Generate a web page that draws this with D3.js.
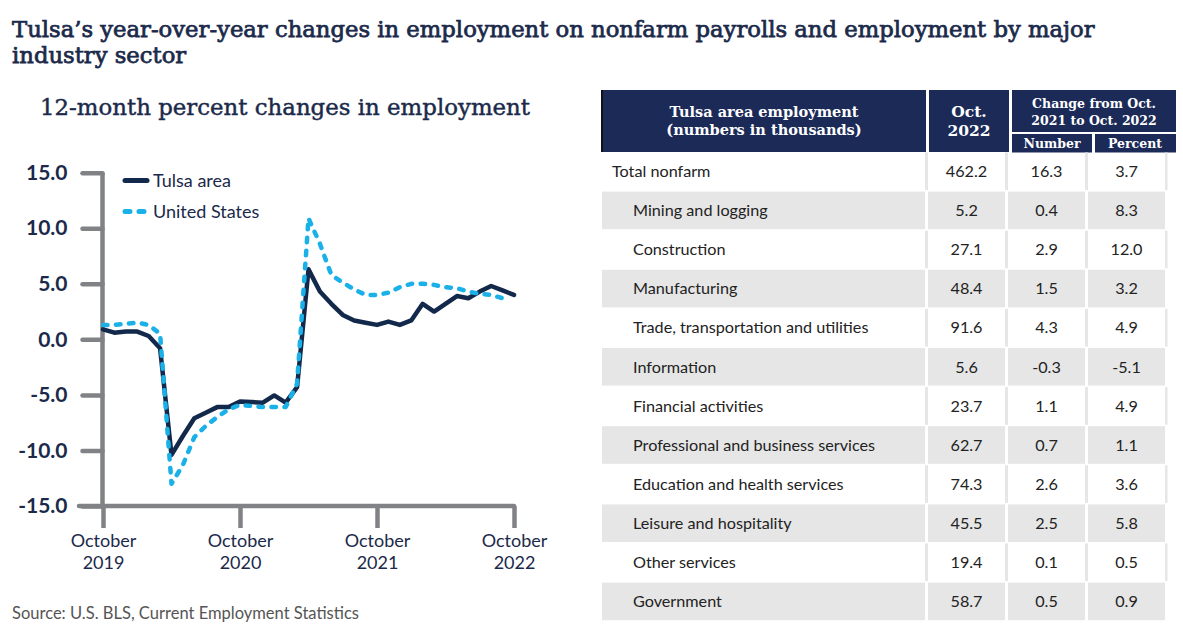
<!DOCTYPE html>
<html>
<head>
<meta charset="utf-8">
<script src="https://cdn.jsdelivr.net/npm/d3@7"></script>
<style>
  html, body { margin: 0; padding: 0; background: #ffffff; }
  svg { display: block; }
</style>
</head>
<body>
<svg id="chart" width="1183" height="640"></svg>
<script>
// ---------------- DATA ----------------
const monthIndex = d3.range(0, 37); // Oct 2019 .. Oct 2022
const tulsa = [0.9,0.6,0.7,0.7,0.3,-0.8,-10.4,-8.7,-7.1,-6.6,-6.1,-6.1,-5.6,-5.65,-5.7,-5.05,-5.7,-4.3,6.3,4.3,3.2,2.2,1.7,1.5,1.3,1.6,1.3,1.7,3.2,2.5,3.2,3.9,3.7,4.3,4.8,4.4,4.0];
const unitedStates = [1.3,1.3,1.4,1.5,1.3,0.5,-13.0,-11.3,-8.8,-7.8,-7.0,-6.3,-5.9,-6.0,-6.1,-6.1,-6.1,-4.0,10.9,8.6,5.8,5.1,4.5,4.0,4.0,4.2,4.7,5.0,5.0,4.9,4.7,4.6,4.3,4.1,4.0,3.7];
const yTicks = [15, 10, 5, 0, -5, -10, -15];
const xTickIndex = [0, 12, 24, 36];
const xTickLabels = [["October","2019"],["October","2020"],["October","2021"],["October","2022"]];
const seriesNames = ["Tulsa area", "United States"];

const sectors = ["Total nonfarm","Mining and logging","Construction","Manufacturing","Trade, transportation and utilities","Information","Financial activities","Professional and business services","Education and health services","Leisure and hospitality","Other services","Government"];
const oct2022 = [462.2,5.2,27.1,48.4,91.6,5.6,23.7,62.7,74.3,45.5,19.4,58.7];
const changeNumber = [16.3,0.4,2.9,1.5,4.3,-0.3,1.1,0.7,2.6,2.5,0.1,0.5];
const changePercent = [3.7,8.3,12.0,3.2,4.9,-5.1,4.9,1.1,3.6,5.8,0.5,0.9];

// ---------------- STYLE ----------------
const NAVY = "#13294b";
const HEAD = "#1c2a58";
const BLUE = "#1ab0e8";
const AXIS = "#808285";
const GRAY = "#e6e6e6";
const SERIF = "'DejaVu Serif', serif";
const SANS = "Lato, 'Open Sans', sans-serif";

const svg = d3.select("#chart");

function fit(sel, w) {
  const n = sel.node();
  const cur = n.getComputedTextLength();
  const fs = parseFloat(sel.attr("font-size"));
  sel.attr("font-size", (fs * w / cur).toFixed(2));
}

// ---------------- TITLES ----------------
const t1 = svg.append("text").attr("x", 12).attr("y", 37).attr("font-family", SERIF)
  .attr("font-size", 21).attr("fill", "#1b2a4a").attr("stroke", "#1b2a4a").attr("stroke-width", 0.75)
  .text("Tulsa\u2019s year-over-year changes in employment on nonfarm payrolls and employment by major");
fit(t1, 1083);
svg.append("text").attr("x", 12).attr("y", 63).attr("font-family", SERIF)
  .attr("font-size", t1.attr("font-size")).attr("fill", "#1b2a4a").attr("stroke", "#1b2a4a").attr("stroke-width", 0.75)
  .text("industry sector");

const st = svg.append("text").attr("x", 40).attr("y", 115).attr("font-family", SERIF)
  .attr("font-size", 21).attr("fill", "#1b2a4a").attr("stroke", "#1b2a4a").attr("stroke-width", 0.45)
  .text("12-month percent changes in employment");
fit(st, 490);

// ---------------- LINE CHART ----------------
const x = d3.scaleLinear().domain([0, 36]).range([103, 514]);
const y = d3.scaleLinear().domain([-15, 15]).range([506, 172.7]);

const yAxis = svg.append("g").attr("transform", "translate(102.5,0)")
  .call(d3.axisLeft(y).tickValues(yTicks).tickFormat(d3.format(".1f")).tickSize(20).tickPadding(15));
yAxis.select(".domain").attr("stroke", AXIS).attr("stroke-width", 4.5)
  .attr("d", `M0,${y(15)}V${y(-15)}`);
yAxis.selectAll(".tick line").attr("stroke", AXIS).attr("stroke-width", 4.5).attr("stroke-linecap", "round");
yAxis.selectAll(".tick text").attr("font-family", SANS).attr("font-weight", "bold")
  .attr("font-size", 21).attr("fill", "#1b2a4a").text(d => d3.format(".1f")(d).replace("\u2212", "-"));

const xAxis = svg.append("g").attr("transform", `translate(0,${y(-15)})`)
  .call(d3.axisBottom(x).tickValues(xTickIndex).tickSize(22).tickFormat(""));
xAxis.select(".domain").attr("stroke", AXIS).attr("stroke-width", 4.5)
  .attr("d", `M${x(0) - 24},0H${x(36)}`).attr("stroke-linecap", "round");
xAxis.selectAll(".tick line").attr("stroke", AXIS).attr("stroke-width", 4.5);
xAxis.selectAll(".tick").each(function(d, i) {
  const g = d3.select(this);
  xTickLabels[i].forEach((s, k) => {
    g.append("text").attr("y", 41 + k * 22).attr("text-anchor", "middle")
      .attr("font-family", SANS).attr("font-size", 18).attr("fill", "#1b2a4a").text(s);
  });
});

const line = d3.line().x((d, i) => x(monthIndex[i])).y(d => y(d));

svg.append("path").datum(tulsa).attr("d", line).attr("fill", "none")
  .attr("stroke", NAVY).attr("stroke-width", 4.5).attr("stroke-linejoin", "round").attr("stroke-linecap", "round");
svg.append("path").datum(unitedStates).attr("d", line).attr("fill", "none")
  .attr("stroke", BLUE).attr("stroke-width", 4.5).attr("stroke-dasharray", "4.5 8.5")
  .attr("stroke-linejoin", "round").attr("stroke-linecap", "round");

// legend
const leg = svg.append("g");
leg.append("line").attr("x1", 125).attr("x2", 147).attr("y1", 180.5).attr("y2", 180.5)
  .attr("stroke", NAVY).attr("stroke-width", 5).attr("stroke-linecap", "round");
leg.append("line").attr("x1", 125).attr("x2", 150).attr("y1", 211.5).attr("y2", 211.5)
  .attr("stroke", BLUE).attr("stroke-width", 5).attr("stroke-dasharray", "5 9").attr("stroke-linecap", "round");
seriesNames.forEach((s, i) => {
  leg.append("text").attr("x", 153).attr("y", 186.5 + i * 31.5).attr("font-family", SANS)
    .attr("font-size", 18).attr("fill", "#1b2a4a").text(s);
});

// source
const src = svg.append("text").attr("x", 12).attr("y", 619).attr("font-family", SANS)
  .attr("font-size", 14.5).attr("fill", "#555").text("Source: U.S. BLS, Current Employment Statistics");
fit(src, 347);

// ---------------- TABLE ----------------
const head = svg.append("g");
const hcells = [[602, 90, 324, 62], [929, 90, 80, 62], [1012, 90, 164, 42], [1012, 134, 80, 18.5], [1095, 134, 81, 18.5]];
hcells.forEach(c => head.append("rect").attr("x", c[0]).attr("y", c[1]).attr("width", c[2]).attr("height", c[3]).attr("fill", HEAD));
head.append("rect").attr("x", 601).attr("y", 90).attr("width", 2).attr("height", 62).attr("fill", "#111");
function htext(xc, yb, s, fs) {
  head.append("text").attr("x", xc).attr("y", yb).attr("text-anchor", "middle").attr("font-family", SERIF)
    .attr("font-weight", "bold").attr("font-size", fs).attr("fill", "#fff").text(s);
}
htext(764, 117, "Tulsa area employment", 14.5);
htext(764, 135, "(numbers in thousands)", 14.5);
htext(969, 117, "Oct.", 15.5);
htext(969, 136, "2022", 15.5);
htext(1094, 107.5, "Change from Oct.", 12.5);
htext(1094, 125, "2021 to Oct. 2022", 12.5);
htext(1052, 148, "Number", 12.5);
htext(1135, 148, "Percent", 12.5);

const bodyCols = [[602, 925], [928, 1005], [1008, 1085], [1088, 1165]];
const rowTop = 152.5, rowH = 39.1;
const body = svg.append("g");
sectors.forEach((s, i) => {
  const top = rowTop + i * rowH;
  const h = rowH - 1.5;
  const shaded = i % 2 === 1;
  if (shaded) {
    bodyCols.forEach(c => body.append("rect").attr("x", c[0]).attr("y", top).attr("width", c[1] - c[0]).attr("height", h).attr("fill", GRAY));
  } else {
    bodyCols.forEach((c, k) => {
      if (k > 0) body.append("rect").attr("x", c[0] - 3).attr("y", top).attr("width", 3).attr("height", h).attr("fill", GRAY);
    });
    body.append("rect").attr("x", 1165).attr("y", top).attr("width", 2.5).attr("height", h).attr("fill", GRAY);
  }
  const yc = top + rowH / 2 + 5;
  body.append("text").attr("x", i === 0 ? 612 : 633).attr("y", yc).attr("font-family", SANS)
    .attr("font-size", 16.2).attr("fill", "#222").text(s);
  [oct2022[i], changeNumber[i], changePercent[i]].forEach((v, k) => {
    const c = bodyCols[k + 1];
    body.append("text").attr("x", (c[0] + c[1]) / 2).attr("y", yc).attr("text-anchor", "middle")
      .attr("font-family", SANS).attr("font-size", 16.2).attr("fill", "#222").text(v.toFixed(1));
  });
});
</script>
</body>
</html>
